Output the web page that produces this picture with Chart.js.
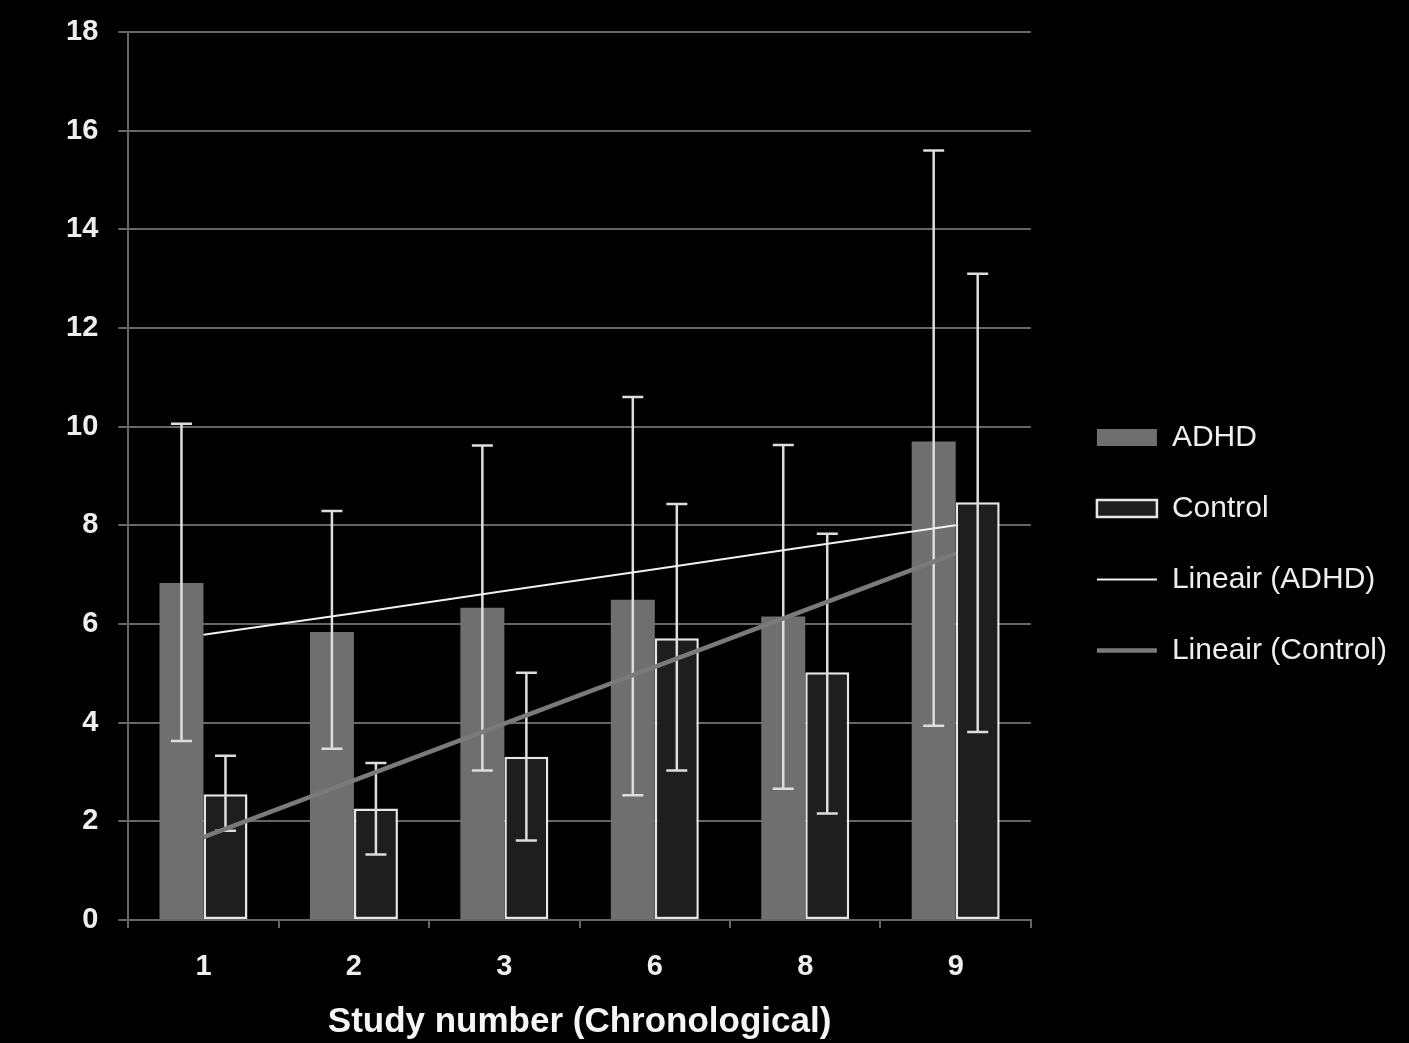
<!DOCTYPE html>
<html lang="en">
<head>
    <meta charset="UTF-8">
    <title>ADHD vs Control per study</title>
    <script src="https://cdn.jsdelivr.net/npm/chart.js"></script>
    <style>
        body {
            margin: 0;
            background-color: #000;
        }
        .chart-container {
            width: 1409px;
            height: 1043px;
        }
    </style>
</head>
<body>
    <div class="chart-container">
        <canvas id="studyChart"></canvas>
    </div>

    <script>
        // Data
        const studies = ['1', '2', '3', '6', '8', '9'];

        const adhd = [6.83, 5.84, 6.33, 6.49, 6.15, 9.70];
        const adhdHigh = [10.06, 8.29, 9.62, 10.6, 9.63, 15.6];
        const adhdLow = [3.63, 3.47, 3.03, 2.53, 2.66, 3.94];

        const control = [2.55, 2.26, 3.31, 5.71, 5.02, 8.47];
        const controlHigh = [3.33, 3.18, 5.01, 8.43, 7.83, 13.1];
        const controlLow = [1.81, 1.33, 1.61, 3.03, 2.16, 3.81];

        const trendAdhd = [5.78, 6.22, 6.67, 7.11, 7.56, 8.00];
        const trendControl = [1.68, 2.83, 3.98, 5.13, 6.28, 7.43];

        const yMax = 18;
        const yStep = 2;

        const gridColor = '#666666';
        const textColor = '#eeeeee';

        // error bars for dataset index -> [low, high]
        const errorRanges = {
            0: [adhdLow, adhdHigh],
            1: [controlLow, controlHigh]
        };

        const errorBars = {
            id: 'errorBars',
            afterDatasetDraw(chart, args) {
                const range = errorRanges[args.index];
                if (!range) return;
                const ctx = chart.ctx;
                const y = chart.scales.y;
                ctx.save();
                ctx.strokeStyle = '#dddddd';
                ctx.lineWidth = 2.5;
                args.meta.data.forEach((bar, i) => {
                    const yLow = y.getPixelForValue(range[0][i]);
                    const yHigh = y.getPixelForValue(range[1][i]);
                    ctx.beginPath();
                    ctx.moveTo(bar.x, yLow);
                    ctx.lineTo(bar.x, yHigh);
                    ctx.moveTo(bar.x - 10.5, yLow);
                    ctx.lineTo(bar.x + 10.5, yLow);
                    ctx.moveTo(bar.x - 10.5, yHigh);
                    ctx.lineTo(bar.x + 10.5, yHigh);
                    ctx.stroke();
                });
                ctx.restore();
            }
        };

        const ctx = document.getElementById('studyChart').getContext('2d');

        const studyChart = new Chart(ctx, {
            type: 'bar',
            data: {
                labels: studies,
                datasets: [{
                    label: 'ADHD',
                    data: adhd,
                    backgroundColor: '#6f6f6f',
                    borderColor: '#6f6f6f',
                    borderWidth: 0,
                    categoryPercentage: 0.585,
                    barPercentage: 1.0,
                    order: 2
                }, {
                    label: 'Control',
                    data: control,
                    backgroundColor: '#1e1e1e',
                    borderColor: '#e6e6e6',
                    borderWidth: 2.5,
                    borderSkipped: false,
                    categoryPercentage: 0.585,
                    barPercentage: 1.0,
                    order: 2
                }, {
                    type: 'line',
                    label: 'Lineair (ADHD)',
                    data: trendAdhd,
                    borderColor: '#f0f0f0',
                    borderWidth: 2,
                    pointRadius: 0,
                    tension: 0,
                    order: 1
                }, {
                    type: 'line',
                    label: 'Lineair (Control)',
                    data: trendControl,
                    borderColor: '#7a7a7a',
                    borderWidth: 4.5,
                    pointRadius: 0,
                    tension: 0,
                    order: 1
                }]
            },
            options: {
                responsive: true,
                maintainAspectRatio: false,
                animation: false,
                layout: {
                    padding: { top: 32, left: 46, right: 12, bottom: 0 }
                },
                plugins: {
                    tooltip: { enabled: false },
                    legend: {
                        position: 'right',
                        maxWidth: 400,
                        // empty title only pushes the items down a little
                        title: { display: true, text: '', font: { size: 11 } },
                        labels: {
                            color: textColor,
                            font: { family: 'Liberation Sans', size: 30 },
                            usePointStyle: true,
                            pointStyleWidth: 60,
                            boxHeight: 17,
                            padding: 41,
                            generateLabels: (chart) => chart.data.datasets.map((ds, i) => ({
                                text: ds.label,
                                fillStyle: ds.backgroundColor || 'transparent',
                                strokeStyle: ds.borderColor,
                                lineWidth: ds.borderWidth,
                                pointStyle: ds.type === 'line' ? 'line' : 'rect',
                                fontColor: textColor,
                                hidden: false,
                                datasetIndex: i
                            }))
                        }
                    }
                },
                scales: {
                    x: {
                        grid: {
                            drawOnChartArea: false,
                            color: gridColor,
                            lineWidth: 2,
                            tickLength: 8
                        },
                        border: { color: gridColor, width: 2 },
                        ticks: {
                            color: textColor,
                            padding: 24,
                            font: { family: 'Liberation Sans', size: 29, weight: 'bold', lineHeight: 1.0 }
                        },
                        title: {
                            display: true,
                            text: 'Study number (Chronological)',
                            color: '#f5f5f5',
                            padding: { top: 0, bottom: 3 },
                            font: { family: 'Liberation Sans', size: 35, weight: 'bold', lineHeight: 1.0 }
                        }
                    },
                    y: {
                        min: 0,
                        max: yMax,
                        grid: {
                            color: gridColor,
                            lineWidth: 2,
                            tickLength: 10
                        },
                        border: { color: gridColor, width: 2 },
                        ticks: {
                            stepSize: yStep,
                            color: textColor,
                            padding: 20,
                            font: { family: 'Liberation Sans', size: 29, weight: 'bold', lineHeight: 0.8 }
                        }
                    },
                    // empty right axis: keeps the gap between plot and legend
                    gap: {
                        type: 'linear',
                        position: 'right',
                        display: true,
                        grid: { display: false },
                        border: { display: false },
                        ticks: { display: false },
                        afterFit: (scale) => { scale.width = 25; }
                    }
                }
            },
            plugins: [errorBars]
        });
    </script>
</body>
</html>
